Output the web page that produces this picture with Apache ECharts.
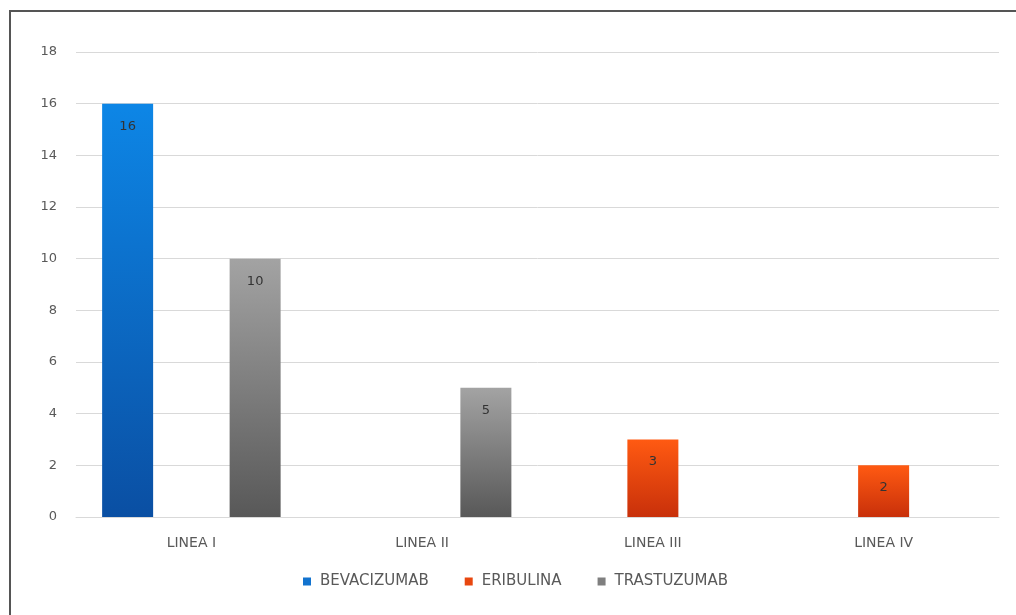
<!DOCTYPE html>
<html>
<head>
<meta charset="utf-8">
<script src="https://cdn.jsdelivr.net/npm/echarts@6/dist/echarts.min.js"></script>
<style>
html,body{margin:0;padding:0;background:#fff;}
#frame{position:absolute;left:9px;top:10px;width:1020px;height:620px;border:2px solid #555;box-sizing:border-box;}
#chart{position:absolute;left:0;top:0;width:1016px;height:615px;}
</style>
</head>
<body>
<div id="frame"></div>
<div id="chart"></div>
<script>
const categories = ['LINEA I', 'LINEA II', 'LINEA III', 'LINEA IV'];
const bevacizumab = [16, null, null, null];
const eribulina = [null, null, 3, 2];
const trastuzumab = [10, 5, null, null];
const yTicks = [0, 2, 4, 6, 8, 10, 12, 14, 16, 18];

function grad(top, bottom) {
  return new echarts.graphic.LinearGradient(0, 0, 0, 1, [
    {offset: 0, color: top}, {offset: 1, color: bottom}
  ]);
}
const FONT = 'DejaVu Sans';
const labelCfg = {show: true, position: 'insideTop', distance: 16, color: '#333', fontSize: 13, fontFamily: FONT};

const chart = echarts.init(document.getElementById('chart'));
chart.setOption({
  animation: false,
  grid: {left: 76, right: 17, top: 52, bottom: 98},
  legend: {
    bottom: 21, left: 298, itemWidth: 8, itemHeight: 8, itemGap: 36, icon: 'rect',
    textStyle: {color: '#595959', fontSize: 15, fontFamily: FONT, padding: [0, 0, 0, 4]},
    data: [
      {name: 'BEVACIZUMAB', itemStyle: {color: '#1273cf'}},
      {name: 'ERIBULINA', itemStyle: {color: '#e8470f'}},
      {name: 'TRASTUZUMAB', itemStyle: {color: '#7f7f7f'}}
    ]
  },
  xAxis: {
    type: 'category', data: categories,
    axisLine: {lineStyle: {color: '#d9d9d9'}}, axisTick: {show: false},
    axisLabel: {color: '#595959', fontSize: 14, fontFamily: FONT, margin: 19}
  },
  yAxis: {
    type: 'value', min: 0, max: 18, interval: 2,
    axisLine: {show: false}, axisTick: {show: false},
    splitLine: {lineStyle: {color: '#d9d9d9'}},
    axisLabel: {color: '#595959', fontSize: 13, fontFamily: FONT, margin: 19,
      formatter: v => yTicks.includes(v) ? String(v) : ''}
  },
  series: [
    {name: 'BEVACIZUMAB', type: 'bar', data: bevacizumab, barWidth: 51, barGap: '25%',
     itemStyle: {color: grad('#0d86e6', '#0a4fa3')}, label: labelCfg},
    {name: 'ERIBULINA', type: 'bar', data: eribulina, barWidth: 51, barGap: '25%',
     itemStyle: {color: grad('#ff5a12', '#c8300a')}, label: labelCfg},
    {name: 'TRASTUZUMAB', type: 'bar', data: trastuzumab, barWidth: 51, barGap: '25%',
     itemStyle: {color: grad('#a3a3a3', '#585858')}, label: labelCfg}
  ]
});
</script>
</body>
</html>
